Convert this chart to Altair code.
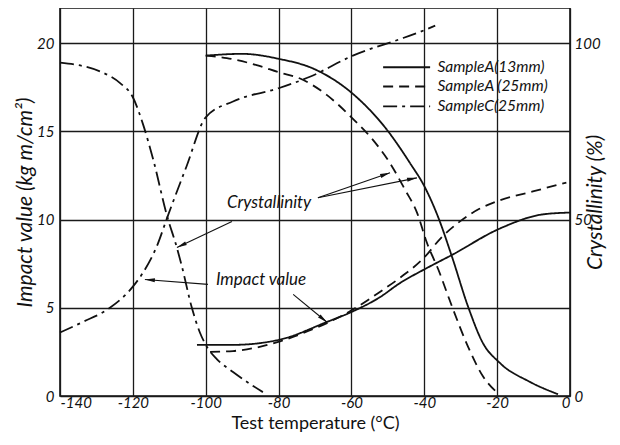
import altair as alt
import pandas as pd
import numpy as np

FONT = "Lato, Open Sans, sans-serif"

series_names = ["SampleA(13mm)", "SampleA (25mm)", "SampleC(25mm)"]
dash_styles = [[1, 0], [10, 6], [14, 5, 3, 5]]

# ---- Impact value (kg m/cm2), left axis ----
a13_imp_x = [-102.4, -99.7, -92.5, -79.6, -66.7, -59.6, -52.2, -46.7, -39.8, -32.4, -19.2, -7.4, 0]
a13_imp_y = [2.9, 2.9, 2.9, 3.2, 4.2, 4.8, 5.6, 6.4, 7.2, 8.0, 9.5, 10.3, 10.4]

a25_imp_x = [-98.8, -92.5, -79.6, -74.1, -59.6, -52.2, -46.7, -39.8, -35.7, -30.2, -25, -19.2, -10.2, -1]
a25_imp_y = [2.5, 2.55, 3.1, 3.5, 4.9, 5.9, 6.7, 7.9, 8.9, 9.9, 10.6, 11.1, 11.6, 12.1]

c_imp_x = [-140, -133.7, -126.3, -120, -117.2, -113.4, -110.6, -105.3, -100, -92.5, -80, -71.4, -59.6, -45.8, -39.3, -37]
c_imp_y = [3.6, 4.2, 5.0, 6.2, 7.0, 8.5, 10.1, 13.0, 15.8, 16.7, 17.45, 18.1, 19.3, 20.3, 20.8, 21.0]

# ---- Crystallinity (%), right axis ----
a13_cry_x = [-100, -90, -80, -70, -60, -50.2, -43.9, -40, -36.3, -32.4, -28, -23.9, -19.5, -11, -3.3]
a13_cry_y = [96.5, 97, 95.6, 92.6, 86, 75.4, 66, 59.5, 51, 39.5, 25.4, 15, 9.6, 4, 0.5]

a25_cry_x = [-100, -94.2, -86, -80, -74.1, -66.7, -60, -54.1, -49.4, -45.3, -42, -39.3, -36.2, -32.4, -28, -23.9, -19.5]
a25_cry_y = [96.5, 95.8, 93.8, 91.8, 90, 85.3, 79, 72.6, 66, 58.5, 52, 43.5, 36, 25.4, 14, 5.6, 0.5]

c_cry_x = [-140, -129, -123.5, -120, -117.2, -114.4, -110.6, -107.9, -106.6, -103.8, -101.6, -99.7, -96.9, -92.5, -87.8, -84.3]
c_cry_y = [94.5, 92, 88.7, 84.7, 77, 67, 51, 42, 37, 25, 18, 14, 10.4, 6.8, 3.4, 1.1]

# ---- Annotations (data units, left axis) ----
ann_text = ["Crystallinity", "Impact value"]
ann_text_x = [-82.6, -84.8]
ann_text_y = [10.96, 6.55]

arrow_x1 = [-69.2, -69.2, -92.8, -99.4, -76.0]
arrow_y1 = [11.24, 11.24, 9.89, 6.33, 5.76]
arrow_x2 = [-49.4, -42.0, -107.9, -116.7, -66.7]
arrow_y2 = [12.66, 12.37, 8.42, 6.61, 4.18]

legend_x1 = [-51.3, -51.3, -51.3]
legend_x2 = [-38.4, -38.4, -38.4]
legend_text_x = [-36.4, -36.4, -36.4]
legend_y = [18.64, 17.55, 16.42]

W, H = 510, 388
X_DOM = [-140, 0]
YL_DOM = [0, 22]
YR_DOM = [0, 110]


def long(xs, ys, name):
    return pd.DataFrame({"x": xs, "y": ys, "series": name})


imp_df = pd.concat([
    long(a13_imp_x, a13_imp_y, series_names[0]),
    long(a25_imp_x, a25_imp_y, series_names[1]),
    long(c_imp_x, c_imp_y, series_names[2]),
])
cry_df = pd.concat([
    long(a13_cry_x, a13_cry_y, series_names[0]),
    long(a25_cry_x, a25_cry_y, series_names[1]),
    long(c_cry_x, c_cry_y, series_names[2]),
])

arrows = pd.DataFrame({"x": arrow_x1, "y": arrow_y1, "x2": arrow_x2, "y2": arrow_y2})
dxp = (arrows["x2"] - arrows["x"]) * W / (X_DOM[1] - X_DOM[0])
dyp = -(arrows["y2"] - arrows["y"]) * H / (YL_DOM[1] - YL_DOM[0])
arrows["ang"] = (np.degrees(np.arctan2(dxp, -dyp)) + 360) % 360
heads = arrows[["x2", "y2", "ang"]].rename(columns={"x2": "hx", "y2": "hy"})

ann_df = pd.DataFrame({"t": ann_text, "x": ann_text_x, "y": ann_text_y})
leg_df = pd.DataFrame({"series": series_names, "x": legend_x1, "x2": legend_x2,
                       "tx": legend_text_x, "y": legend_y})

xscale = alt.Scale(domain=X_DOM, nice=False, zero=False)
ylscale = alt.Scale(domain=YL_DOM, nice=False, zero=False)
yrscale = alt.Scale(domain=YR_DOM, nice=False, zero=False)

x_axis = alt.Axis(values=list(range(-140, 1, 20)), labelExpr="'' + datum.value",
                  title="Test temperature (°C)", grid=True, gridColor="#1a1a1a",
                  gridWidth=1.3, domain=False, ticks=False, labelFontSize=15,
                  labelFontStyle="italic", labelFont=FONT, labelColor="#111",
                  labelPadding=-1, titleFont=FONT, titleFontSize=18,
                  titleFontWeight="normal", titleColor="#111", titlePadding=4)
yl_axis = alt.Axis(values=[0, 5, 10, 15, 20], title="Impact value (kg m/cm²)",
                   grid=True, gridColor="#1a1a1a", gridWidth=1.3, domain=False,
                   ticks=False, labelFontSize=15, labelFontStyle="italic",
                   labelFont=FONT, labelColor="#111", labelPadding=6,
                   titleFont=FONT, titleFontSize=21, titleFontWeight="normal",
                   titleFontStyle="italic", titleColor="#111", titlePadding=1)
yr_axis = alt.Axis(values=[0, 50, 100], title="Crystallinity (%)", orient="right",
                   grid=False, domain=False, ticks=False, labelFontSize=15,
                   labelFontStyle="italic", labelFont=FONT, labelColor="#111",
                   labelPadding=4, titleFont=FONT, titleFontSize=21,
                   titleFontWeight="normal", titleFontStyle="italic",
                   titleColor="#111", titlePadding=5, titleAngle=270)

X = alt.X("x:Q", scale=xscale, axis=x_axis)
YL = alt.Y("y:Q", scale=ylscale, axis=yl_axis)
YR = alt.Y("y:Q", scale=yrscale, axis=yr_axis)
dash = alt.StrokeDash("series:N", scale=alt.Scale(domain=series_names, range=dash_styles), legend=None)

imp_lines = alt.Chart(imp_df).mark_line(color="#111", strokeWidth=1.8, interpolate="monotone").encode(
    x=X, y=YL, strokeDash=dash, detail="series:N")

legend_rules = alt.Chart(leg_df).mark_rule(color="#111", strokeWidth=1.8).encode(
    x=X, x2="x2:Q", y=YL, strokeDash=dash)
legend_text = alt.Chart(leg_df).mark_text(align="left", baseline="middle", font=FONT,
                                          fontSize=15.5, fontStyle="italic", color="#111").encode(
    x=alt.X("tx:Q", scale=xscale, axis=x_axis), y=YL, text="series:N")

ann_texts = alt.Chart(ann_df).mark_text(align="center", baseline="middle", font=FONT,
                                        fontSize=17, fontStyle="italic", color="#111").encode(
    x=X, y=YL, text="t:N")
arrow_rules = alt.Chart(arrows).mark_rule(color="#111", strokeWidth=1.1).encode(
    x=X, y=YL, x2="x2:Q", y2="y2:Q")
arrow_heads = alt.Chart(heads).mark_point(
    shape="M0,0L0.4,2L-0.4,2Z", filled=True, color="#111", opacity=1, size=100).encode(
    x=alt.X("hx:Q", scale=xscale, axis=x_axis),
    y=alt.Y("hy:Q", scale=ylscale, axis=yl_axis),
    angle=alt.Angle("ang:Q", scale=None))

left = alt.layer(imp_lines, legend_rules, legend_text, ann_texts, arrow_rules, arrow_heads)

right = alt.Chart(cry_df).mark_line(color="#111", strokeWidth=1.8, interpolate="monotone").encode(
    x=X, y=YR, strokeDash=dash, detail="series:N")

chart = alt.layer(left, right).resolve_scale(y="independent").properties(
    width=W, height=H,
    autosize=alt.AutoSizeParams(type="none"),
    padding={"left": 52, "top": 0, "right": 42, "bottom": 41},
    background="white",
).configure_view(stroke="#111", strokeWidth=1.6)

chart.save("out.html", embed_options={"renderer": "svg", "actions": False})
